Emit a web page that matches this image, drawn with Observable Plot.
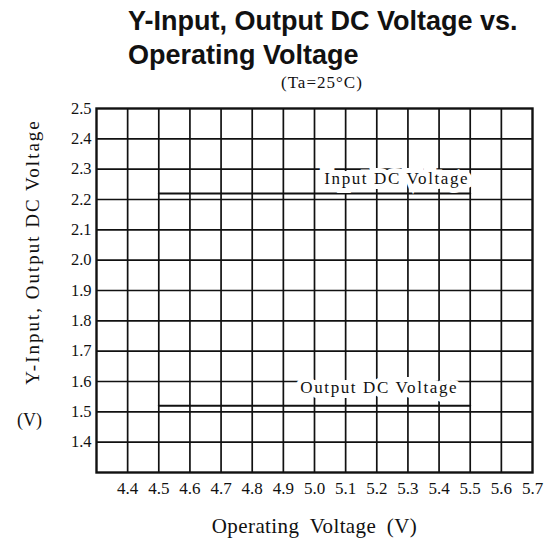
<!DOCTYPE html>
<html><head><meta charset="utf-8">
<script src="https://cdn.jsdelivr.net/npm/d3@7"></script>
<script src="https://cdn.jsdelivr.net/npm/@observablehq/plot@0.6"></script>
<style>
body{margin:0;background:#fff;}
#wrap{position:relative;width:545px;height:544px;overflow:hidden;background:#fff;}
.t{position:absolute;white-space:nowrap;color:#111;}
#title{left:128px;top:4px;font-family:"Liberation Sans",Arial,sans-serif;font-weight:bold;font-size:27px;line-height:34px;}
#sub{left:281px;top:73px;font-family:"Liberation Serif",serif;font-size:17px;letter-spacing:1px;line-height:20px;}
#vunit{left:17px;top:410px;font-family:"Liberation Serif",serif;font-size:18px;}
#ylab{left:33px;top:252px;font-family:"Liberation Serif",serif;font-size:19px;letter-spacing:2px;transform:translate(-50%,-50%) rotate(-90deg);line-height:22px;}
#chart{position:absolute;left:0;top:0;}
</style></head>
<body><div id="wrap">
<div id="chart"></div>
<div class="t" id="title">Y-Input, Output DC Voltage vs.<br>Operating Voltage</div>
<div class="t" id="sub">(Ta=25°C)</div>
<div class="t" id="ylab">Y-Input, Output DC Voltage</div>
<div class="t" id="vunit">(V)</div>
</div>
<script>
const opVoltage = [4.5, 5.5];
const inputDC = [2.22, 2.22];
const outputDC = [1.52, 1.52];
const seriesNames = ["Input DC Voltage", "Output DC Voltage"];
const xTicks = [4.4,4.5,4.6,4.7,4.8,4.9,5.0,5.1,5.2,5.3,5.4,5.5,5.6,5.7];
const yTicks = [1.4,1.5,1.6,1.7,1.8,1.9,2.0,2.1,2.2,2.3,2.4,2.5];
const xGrid = [4.4,4.5,4.6,4.7,4.8,4.9,5.0,5.1,5.2,5.3,5.4,5.5,5.6];
const yGrid = [1.4,1.5,1.6,1.7,1.8,1.9,2.0,2.1,2.2,2.3,2.4];

const inputRows = opVoltage.map((x,i)=>({x, y: inputDC[i]}));
const outputRows = opVoltage.map((x,i)=>({x, y: outputDC[i]}));
const lastX = opVoltage[opVoltage.length-1];
const labelIn = [{x: lastX, y: inputDC[inputDC.length-1], name: seriesNames[0]}];
const labelOut = [{x: lastX, y: outputDC[outputDC.length-1], name: seriesNames[1]}];

const chart = Plot.plot({
  width: 545, height: 544,
  marginLeft: 96, marginRight: 13, marginTop: 108, marginBottom: 72,
  style: {fontFamily: "'Liberation Serif', serif", color: "#111", background: "white"},
  x: {domain: [4.3, 5.7], label: null},
  y: {domain: [1.3, 2.5], label: null},
  marks: [
    Plot.gridX(xGrid, {stroke: "#111", strokeOpacity: 1, strokeWidth: 1.7}),
    Plot.gridY(yGrid, {stroke: "#111", strokeOpacity: 1, strokeWidth: 1.7}),
    Plot.frame({stroke: "#111", strokeWidth: 2.4}),
    Plot.line(inputRows, {x: "x", y: "y", stroke: "#111", strokeWidth: 2}),
    Plot.line(outputRows, {x: "x", y: "y", stroke: "#111", strokeWidth: 2}),
    Plot.text(labelIn, {x: "x", y: "y", text: "name", textAnchor: "end", dx: -1, dy: -15, fontSize: 17, fill: "#111", stroke: "white", strokeWidth: 10, strokeLinejoin: "miter", paintOrder: "stroke"}),
    Plot.text(labelOut, {x: "x", y: "y", text: "name", textAnchor: "end", dx: -12, dy: -18, fontSize: 17, fill: "#111", stroke: "white", strokeWidth: 10, strokeLinejoin: "miter", paintOrder: "stroke"}),
    Plot.axisX(xTicks, {tickSize: 0, tickPadding: 9, fontSize: 17, label: null}),
    Plot.axisY(yTicks, {tickSize: 0, tickPadding: 5, fontSize: 16.5, label: null, tickFormat: d3.format(".1f")}),
    Plot.axisX({ticks: [], label: "Operating Voltage (V)", labelAnchor: "center", labelArrow: "none", labelOffset: 60, fontSize: 21})
  ]
});
chart.querySelectorAll("[aria-label='text'] text").forEach(t => t.setAttribute("letter-spacing", "1.6"));
chart.querySelectorAll("[aria-label='x-axis label'] text").forEach(t => { t.setAttribute("letter-spacing", "0.4"); t.setAttribute("word-spacing", "5"); });
document.getElementById("chart").appendChild(chart);
</script>
</body></html>
